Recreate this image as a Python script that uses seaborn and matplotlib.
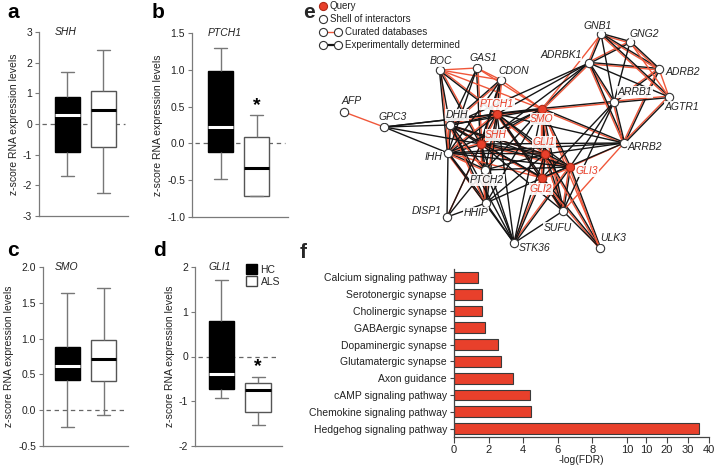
import numpy as np
import pandas as pd
import matplotlib
matplotlib.use("Agg")
import matplotlib.pyplot as plt
from matplotlib.patches import Patch
import seaborn as sns

# ---------------- data ----------------
groups = ["HC", "ALS"]
genes = ["SHH", "PTCH1", "SMO", "GLI1"]
# five-number summaries: min, q1, median, q3, max
shh_hc = [-1.70, -0.90, 0.30, 0.88, 1.70]
shh_als = [-2.25, -0.75, 0.45, 1.08, 2.40]
ptch1_hc = [-0.48, -0.12, 0.22, 0.98, 1.30]
ptch1_als = [-0.72, -0.72, -0.34, 0.09, 0.38]
smo_hc = [-0.24, 0.42, 0.62, 0.88, 1.64]
smo_als = [-0.07, 0.41, 0.71, 0.98, 1.71]
gli1_hc = [-0.92, -0.72, -0.40, 0.80, 1.70]
gli1_als = [-1.52, -1.25, -0.75, -0.60, -0.45]
significant = [False, True, False, True]
y_ticks = [[-3, -2, -1, 0, 1, 2, 3],
           [-1.0, -0.5, 0.0, 0.5, 1.0, 1.5],
           [-0.5, 0.0, 0.5, 1.0, 1.5, 2.0],
           [-2, -1, 0, 1, 2]]
y_ticklabels = [["-3", "-2", "-1", "0", "1", "2", "3"],
                ["-1.0", "-0.5", "0.0", "0.5", "1.0", "1.5"],
                ["-0.5", "0.0", "0.5", "1.0", "1.5", "2.0"],
                ["-2", "-1", "0", "1", "2"]]

pathways = ["Calcium signaling pathway", "Serotonergic synapse", "Cholinergic synapse",
            "GABAergic synapse", "Dopaminergic synapse", "Glutamatergic synapse",
            "Axon guidance", "cAMP signaling pathway", "Chemokine signaling pathway",
            "Hedgehog signaling pathway"]
neg_log_fdr = [1.40, 1.63, 1.63, 1.79, 2.55, 2.70, 3.40, 4.38, 4.48, 35.3]
fdr_ticks = [0, 2, 4, 6, 8, 10, 10.000001, 20, 30, 40]
fdr_ticklabels = ["0", "2", "4", "6", "8", "10", "10", "20", "30", "40"]

query_nodes = ["SHH", "PTCH1", "SMO", "GLI1", "GLI2", "GLI3"]
shell_nodes = ["DHH", "IHH", "PTCH2", "HHIP", "DISP1", "SUFU", "STK36", "ULK3",
               "BOC", "GAS1", "CDON", "GPC3", "AFP", "ADRBK1", "GNB1", "GNG2",
               "ADRB2", "AGTR1", "ARRB1", "ARRB2"]
edges_both = [
    ("SHH", "PTCH1"), ("SHH", "PTCH2"), ("SHH", "SMO"), ("SHH", "GLI1"), ("SHH", "GLI2"),
    ("SHH", "GLI3"), ("SHH", "DHH"), ("SHH", "IHH"), ("SHH", "HHIP"), ("SHH", "BOC"),
    ("SHH", "CDON"), ("SHH", "GAS1"), ("PTCH1", "SMO"), ("PTCH1", "GLI1"), ("PTCH1", "GLI2"),
    ("PTCH1", "DHH"), ("PTCH1", "IHH"), ("PTCH1", "HHIP"), ("PTCH1", "CDON"), ("PTCH1", "BOC"),
    ("SMO", "GLI1"), ("SMO", "GLI2"), ("SMO", "GLI3"), ("SMO", "SUFU"), ("SMO", "ARRB2"),
    ("SMO", "ARRB1"), ("SMO", "ADRBK1"), ("GLI1", "GLI2"), ("GLI1", "GLI3"), ("GLI1", "SUFU"),
    ("GLI2", "GLI3"), ("GLI2", "SUFU"), ("GLI3", "SUFU"), ("GLI1", "ULK3"), ("GLI2", "ULK3"),
    ("GLI3", "ULK3"), ("DHH", "IHH"), ("DHH", "PTCH2"), ("IHH", "PTCH2"), ("IHH", "HHIP"),
    ("DHH", "HHIP"), ("PTCH2", "HHIP"), ("IHH", "BOC"), ("DHH", "CDON"),
    ("GNB1", "GNG2"), ("GNB1", "ADRBK1"), ("GNG2", "ADRBK1"), ("ADRBK1", "ADRB2"),
    ("ADRBK1", "ARRB1"), ("ADRBK1", "ARRB2"), ("ADRB2", "ARRB1"), ("ADRB2", "ARRB2"),
    ("AGTR1", "ARRB1"), ("AGTR1", "ARRB2"), ("ARRB1", "ARRB2"), ("GNB1", "ADRB2"),
    ("GNG2", "ADRB2"), ("GNB1", "AGTR1"), ("GLI3", "STK36"), ("GLI2", "STK36"),
]
edges_curated = [
    ("AFP", "GPC3"), ("BOC", "GAS1"), ("BOC", "CDON"), ("GAS1", "CDON"), ("CDON", "SMO"),
    ("GAS1", "SMO"), ("BOC", "SMO"), ("SMO", "GNB1"), ("ARRB2", "SUFU"), ("GLI3", "ARRB2"),
    ("SMO", "ULK3"), ("SHH", "DISP1"), ("ADRB2", "AGTR1"), ("GNG2", "AGTR1"),
    ("GLI1", "DHH"), ("GLI2", "IHH"),
]
edges_exp = [
    ("GPC3", "DHH"), ("GPC3", "SHH"), ("GPC3", "IHH"), ("GPC3", "PTCH1"), ("GPC3", "SMO"),
    ("BOC", "DHH"), ("GAS1", "DHH"), ("GAS1", "IHH"), ("CDON", "IHH"), ("CDON", "SHH"),
    ("IHH", "DISP1"), ("DISP1", "PTCH2"), ("DISP1", "HHIP"), ("DISP1", "SHH"),
    ("HHIP", "STK36"), ("PTCH2", "STK36"), ("SHH", "STK36"), ("PTCH1", "STK36"),
    ("DHH", "STK36"), ("IHH", "STK36"), ("GLI1", "STK36"), ("SUFU", "STK36"), ("SMO", "STK36"),
    ("SUFU", "ULK3"), ("IHH", "ARRB2"), ("SHH", "ARRB2"), ("GLI1", "ARRB2"), ("GLI2", "ARRB2"),
    ("PTCH1", "ARRB2"), ("ARRB1", "GLI3"), ("ARRB1", "GLI2"), ("ARRB1", "SUFU"),
    ("ADRBK1", "PTCH1"), ("ADRBK1", "DHH"), ("ADRBK1", "SHH"), ("GNG2", "ARRB1"),
    ("GNB1", "ARRB1"), ("ADRBK1", "AGTR1"), ("DHH", "GLI2"), ("DHH", "GLI3"),
    ("IHH", "GLI1"), ("IHH", "GLI3"), ("PTCH2", "GLI1"), ("PTCH2", "GLI3"), ("HHIP", "GLI1"),
    ("HHIP", "GLI2"), ("HHIP", "SMO"), ("PTCH2", "SMO"), ("PTCH1", "GLI3"), ("PTCH1", "PTCH2"),
    ("PTCH1", "SUFU"), ("SHH", "SUFU"), ("IHH", "SMO"), ("DHH", "SMO"), ("DHH", "GLI1"),
]

# ---------------- layout / style ----------------
W, H = 716, 469
RED = "#E8402B"
NET_RED = "#F0573A"
AX_GREY = "#7a7a7a"
TXT = "#222222"

# node layout in figure pixels: (x, y, label_x, label_y)
node_layout = {
    "GNB1": (601, 34, 598, 26), "GNG2": (630, 42, 644, 34), "ADRBK1": (589, 63, 561, 55),
    "ADRB2": (659, 69, 683, 72), "AGTR1": (669, 97, 682, 107), "ARRB1": (614, 102, 635, 92),
    "ARRB2": (624, 143, 645, 147), "BOC": (440, 70, 441, 61), "GAS1": (477, 68, 483, 58),
    "CDON": (501, 80, 514, 71), "PTCH1": (497, 114, 497, 104), "SMO": (542, 109, 542, 119),
    "GPC3": (384, 127, 393, 117), "DHH": (450, 125, 457, 115), "SHH": (481, 144, 496, 135),
    "GLI1": (545, 154, 544, 142), "IHH": (448, 153, 434, 157), "GLI3": (570, 167, 587, 171),
    "GLI2": (542, 178, 541, 189), "PTCH2": (485, 170, 487, 180), "HHIP": (486, 203, 476, 213),
    "DISP1": (447, 217, 427, 211), "SUFU": (563, 211, 558, 228), "STK36": (514, 243, 535, 248),
    "ULK3": (600, 248, 613, 238), "AFP": (344, 112, 352, 101),
}

sns.set_style("ticks")
plt.rcParams["font.family"] = ["Liberation Sans", "DejaVu Sans"]
plt.rcParams["font.size"] = 7
plt.rcParams["axes.edgecolor"] = AX_GREY
plt.rcParams["xtick.color"] = AX_GREY
plt.rcParams["ytick.color"] = AX_GREY
plt.rcParams["xtick.labelcolor"] = TXT
plt.rcParams["ytick.labelcolor"] = TXT

fig = plt.figure(figsize=(W / 100, H / 100), dpi=100)


def px_axes(left, top, right, bottom, **kw):
    return fig.add_axes([left / W, 1 - bottom / H, (right - left) / W, (bottom - top) / H], **kw)


def fig_text(x, y, s, **kw):
    fig.text(x / W, 1 - y / H, s, **kw)


# ---------------- box plots a-d ----------------
summaries = [(shh_hc, shh_als), (ptch1_hc, ptch1_als), (smo_hc, smo_als), (gli1_hc, gli1_als)]
box_rects = [(39, 32, 128, 216), (192, 33, 288, 217), (43, 267, 128, 446), (195, 267, 282, 446)]
box_xlims = [(-0.79, 1.68), (-0.80, 1.87), (-0.68, 1.68), (-0.72, 1.65)]
letters = [("a", 7, 12), ("b", 152, 12), ("c", 7, 250), ("d", 153, 250)]

for i, gene in enumerate(genes):
    ax = px_axes(*box_rects[i])
    hc, als = summaries[i]
    df = pd.DataFrame({"group": ["HC"] * 5 + ["ALS"] * 5, "value": hc + als})
    for grp, face, edge, med in [("HC", "black", "black", "white"), ("ALS", "white", "#555555", "black")]:
        sns.boxplot(data=df[df["group"] == grp], x="group", y="value", order=groups,
                    whis=(0, 100), width=0.7, color=face, saturation=1, linewidth=1,
                    linecolor=edge, ax=ax,
                    boxprops=dict(facecolor=face, edgecolor=edge, linewidth=1),
                    medianprops=dict(color=med, linewidth=2.2),
                    whiskerprops=dict(color="#777777", linewidth=1),
                    capprops=dict(color="#777777", linewidth=1))
    ax.set_xlim(*box_xlims[i])
    ax.set_ylim(y_ticks[i][0], y_ticks[i][-1])
    ax.set_yticks(y_ticks[i])
    ax.set_yticklabels(y_ticklabels[i], fontsize=7.5)
    ax.set_xticks([])
    ax.set_xlabel("")
    ax.set_ylabel("z-score RNA expression levels", fontsize=7.5, color=TXT, labelpad=3)
    ax.tick_params(axis="y", length=3, width=0.8, pad=2)
    for s in ["top", "right"]:
        ax.spines[s].set_visible(False)
    for s in ["left", "bottom"]:
        ax.spines[s].set_color(AX_GREY)
        ax.spines[s].set_linewidth(0.9)
    ax.axhline(0, xmin=0.03, xmax=0.97, color="#666666", lw=0.9, ls=(0, (3.5, 3)), zorder=0.5)
    ax.text(-0.35, y_ticks[i][-1], gene, style="italic", fontsize=7.5, color=TXT,
            ha="left", va="center")
    if significant[i]:
        ax.annotate("*", (1, als[4]), xytext=(0, 7), textcoords="offset points",
                    ha="center", va="center", fontsize=14, fontweight="bold", color="black")
    L, x0, y0 = letters[i]
    fig_text(x0, y0, L, fontsize=15, fontweight="bold", ha="left", va="center", color="black")

# legend for d
fig.legend(handles=[Patch(facecolor="black", edgecolor="black", label="HC"),
                    Patch(facecolor="white", edgecolor="#444444", label="ALS")],
           loc="upper left", bbox_to_anchor=(246 / W, 1 - 264 / H), frameon=False,
           fontsize=7.5, handlelength=1.1, handleheight=1.1, handletextpad=0.3,
           labelspacing=0.15, borderpad=0, borderaxespad=0)

# ---------------- panel f: enrichment ----------------
axf = px_axes(454, 269, 709, 437)
GAP = 1.1
RIGHT_K = 0.1216


def fwd(x):
    x = np.asarray(x, dtype=float)
    return np.where(x <= 10, x, 10 + GAP + (x - 10) * RIGHT_K)


def inv(y):
    y = np.asarray(y, dtype=float)
    return np.where(y <= 10, y, np.where(y < 10 + GAP, 10, 10 + (y - 10 - GAP) / RIGHT_K))


axf.set_xscale("function", functions=(fwd, inv))
df_f = pd.DataFrame({"pathway": pathways, "value": neg_log_fdr})
sns.barplot(data=df_f, y="pathway", x="value", order=pathways, color=RED, saturation=1,
            width=0.64, edgecolor="#3a3a3a", linewidth=0.8, ax=axf)
axf.set_xlim(0, 40)
axf.xaxis.set_major_locator(matplotlib.ticker.FixedLocator(fdr_ticks))
axf.xaxis.set_major_formatter(matplotlib.ticker.FixedFormatter(fdr_ticklabels))
axf.xaxis.set_minor_locator(matplotlib.ticker.NullLocator())
axf.tick_params(axis="x", length=4, width=0.8, pad=2, labelsize=8)
axf.tick_params(axis="y", length=3, width=0.8, pad=2, labelsize=7.5)
axf.set_xlabel("-log(FDR)", fontsize=7.5, color=TXT, labelpad=0)
axf.set_ylabel("")
for s in ["top", "right"]:
    axf.spines[s].set_visible(False)
for s in ["left", "bottom"]:
    axf.spines[s].set_color("#444444")
    axf.spines[s].set_linewidth(0.9)
axf.tick_params(colors="#444444", labelcolor=TXT)
fig_text(300, 252, "f", fontsize=15, fontweight="bold", ha="left", va="center")

# ---------------- panel e: network ----------------
axn = px_axes(300, 0, 716, 262)
axn.set_xlim(300, 716)
axn.set_ylim(262, 0)
axn.axis("off")
axn.patch.set_visible(False)


def draw_edge(a, b, color, offset):
    xa, ya = node_layout[a][:2]
    xb, yb = node_layout[b][:2]
    d = np.array([xb - xa, yb - ya], dtype=float)
    n = np.array([-d[1], d[0]]) / np.hypot(*d)
    axn.plot([xa + n[0] * offset, xb + n[0] * offset], [ya + n[1] * offset, yb + n[1] * offset],
             color=color, lw=1.0, solid_capstyle="butt", zorder=1)


for a, b in edges_both:
    draw_edge(a, b, NET_RED, 0.9)
    draw_edge(a, b, "#151515", -0.6)
for a, b in edges_curated:
    draw_edge(a, b, NET_RED, 0)
for a, b in edges_exp:
    draw_edge(a, b, "#151515", 0)

for name in shell_nodes + query_nodes:
    x, y, tx, ty = node_layout[name]
    q = name in query_nodes
    axn.scatter([x], [y], s=36, facecolor=RED if q else "white",
                edgecolor="#b02a18" if q else "#333333", linewidth=0.8, zorder=3)
    axn.text(tx, ty, name, style="italic", fontsize=7.5, color=RED if q else TXT,
             ha="center", va="center", zorder=4,
             bbox=dict(boxstyle="square,pad=0.05", fc="white", ec="none", alpha=0.9))

# legend for e
fig_text(303, 13, "e", fontsize=15, fontweight="bold", ha="left", va="center")
axn.scatter([323], [6], s=34, facecolor=RED, edgecolor="#b02a18", linewidth=0.8, zorder=3)
axn.text(330, 6, "Query", fontsize=7, color=TXT, va="center")
axn.scatter([323], [19], s=34, facecolor="white", edgecolor="#333333", linewidth=0.8, zorder=3)
axn.text(330, 19, "Shell of interactors", fontsize=7, color=TXT, va="center")
for yy, col, txt, lw in [(32, NET_RED, "Curated databases", 1.0), (45, "#151515", "Experimentally determined", 1.6)]:
    axn.plot([323, 338], [yy, yy], color=col, lw=lw, zorder=2)
    axn.scatter([323, 338], [yy, yy], s=34, facecolor="white", edgecolor="#333333", linewidth=0.8, zorder=3)
    axn.text(345, yy, txt, fontsize=7, color=TXT, va="center")

fig.savefig("out.png", dpi=100)
